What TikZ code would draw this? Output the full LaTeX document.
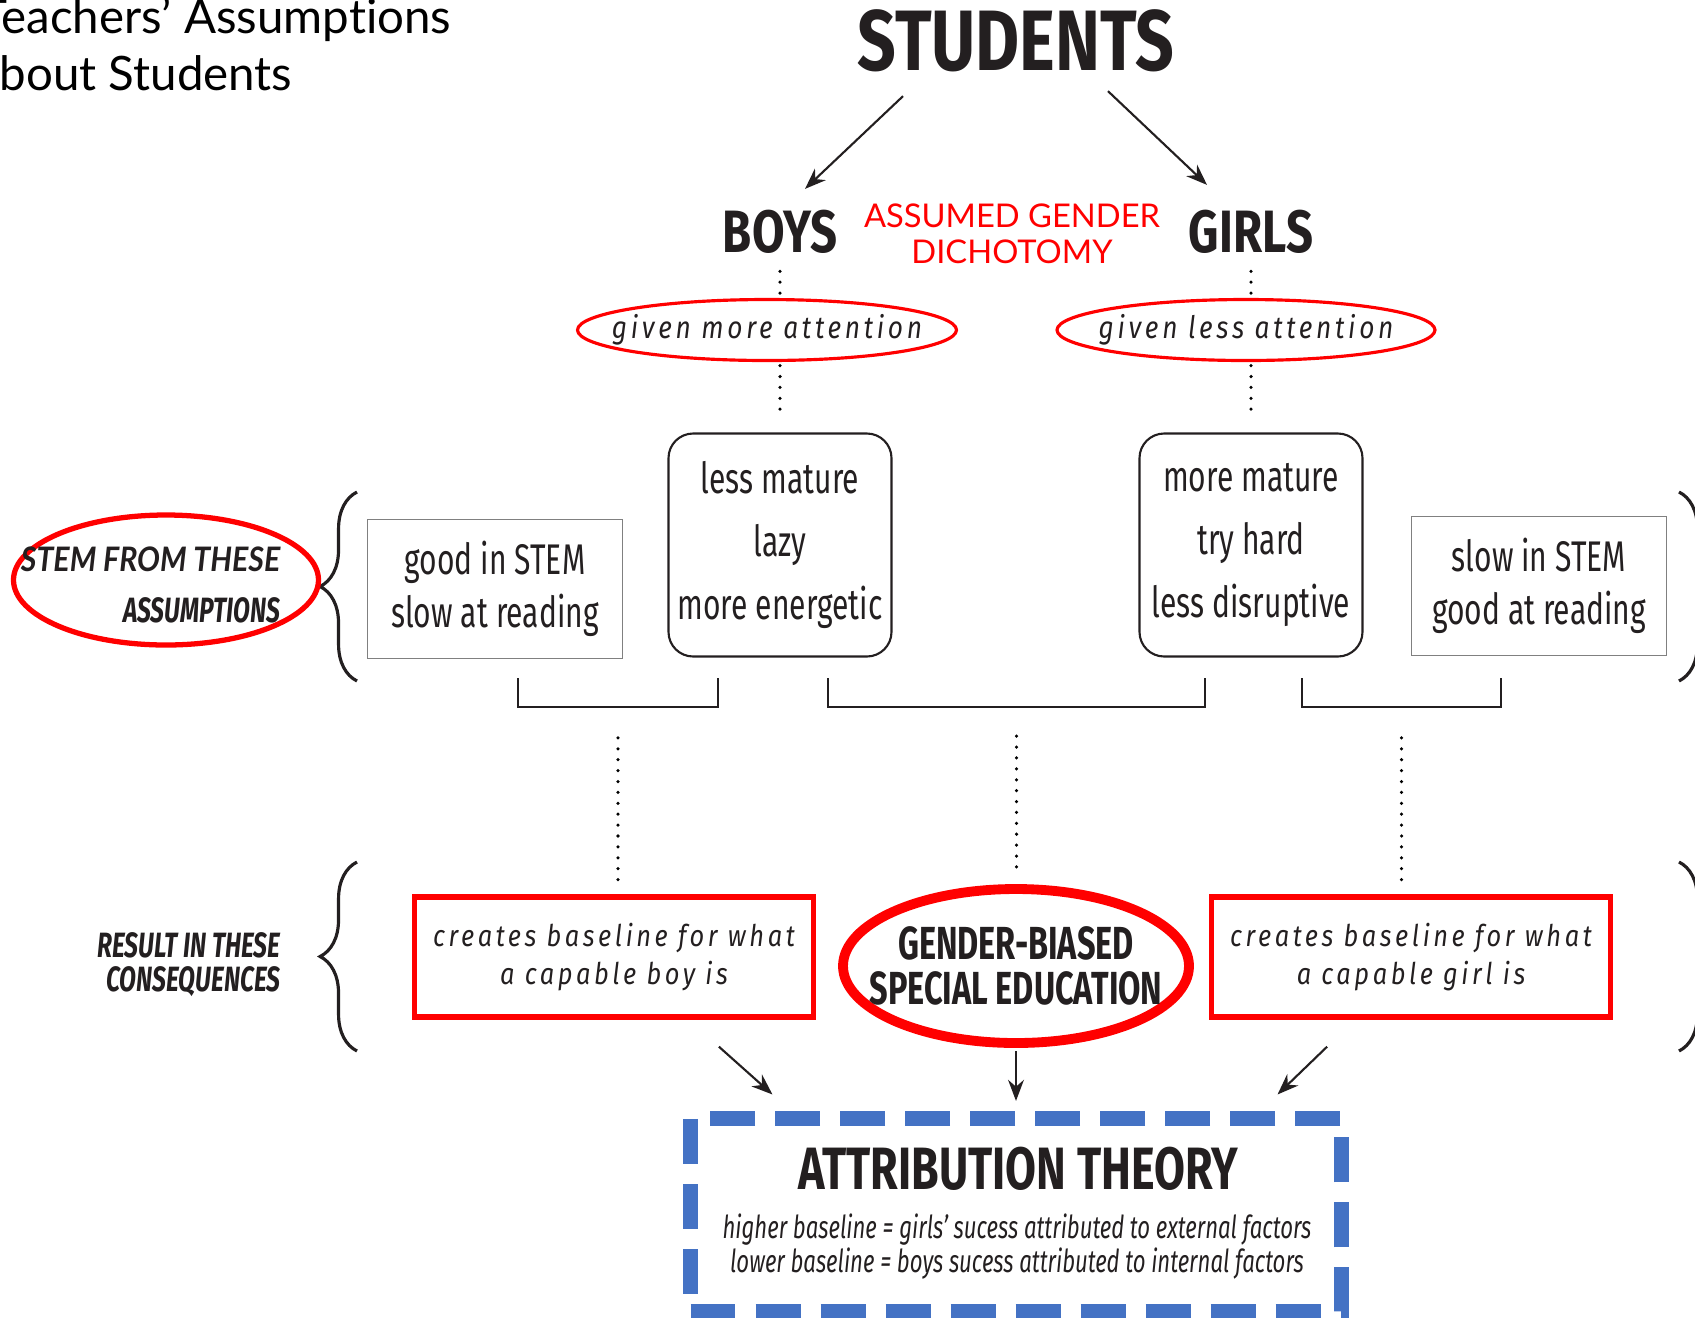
\documentclass[tikz,border=0pt]{standalone}
\usepackage{fontspec}
\setmainfont{Lato}[Ligatures=NoCommon]
\newfontfamily\narrowfont[FakeStretch=0.7]{Fira Sans}
\newfontfamily\headfont[FakeStretch=0.79]{Fira Sans}
\newfontfamily\theoryfont[FakeStretch=0.75]{Fira Sans}
\newfontfamily\spacedfont[FakeStretch=0.85,LetterSpace=12]{Fira Sans}
\newfontfamily\obliquefont[FakeStretch=0.9,Ligatures=NoCommon]{Lato}
\usetikzlibrary{arrows.meta,decorations.pathreplacing,shapes.geometric}
\definecolor{ink}{RGB}{35,31,32}
\definecolor{dashblue}{RGB}{68,114,196}

\begin{document}
\begin{tikzpicture}[x=0.1mm, y=-0.1mm, >={Stealth[length=6pt,width=4.5pt]},
	every node/.style={inner sep=0pt, text=ink},
	bigcaps/.style={font=\headfont\bfseries\fontsize{17}{20}\selectfont},
	trait/.style={draw=ink, line width=0.6pt, rounded corners=7pt, minimum width=22.3mm, minimum height=22.3mm, align=center, font=\narrowfont\fontsize{12.2}{17.9}\selectfont},
	skill/.style={draw=gray, line width=0.5pt, minimum width=25.5mm, minimum height=13.9mm, align=center, font=\narrowfont\fontsize{12.2}{15}\selectfont},
	given/.style={ellipse, draw=red, line width=0.9pt, inner xsep=-6pt, minimum width=37.8mm, minimum height=6.1mm, font=\spacedfont\itshape\fontsize{8.8}{10}\selectfont},
	capbox/.style={draw=red, line width=1.5pt, minimum width=39.9mm, minimum height=12mm, align=center, font=\spacedfont\itshape\fontsize{8.5}{10.8}\selectfont},
	dotline/.style={line width=1pt, line cap=round, dash pattern=on 0pt off 3.1pt},
	sidelabel/.style={anchor=base east, font=\narrowfont\bfseries\itshape\fontsize{10}{12}\selectfont},
	curly/.style={decorate, decoration={brace, amplitude=10.5pt}, line width=0.9pt, ink},
	link/.style={->, ink, line width=0.6pt}]

	\useasboundingbox (0,0) rectangle (1695,1317);
	\clip (0,0) rectangle (1695,1317);

	% title, cut off at the left edge
	\node[anchor=base east, text=black, font=\fontsize{13.5}{16}\selectfont] (title1) at (452,33) {Teachers’ Assumptions};
	\node[anchor=base east, text=black, font=\fontsize{13.5}{16}\selectfont] (title2) at (293,90) {About Students};

	% top of the tree
	\node[anchor=base, font=\headfont\bfseries\fontsize{24.4}{28}\selectfont] (students) at (1016,70) {STUDENTS};
	\node[anchor=base, bigcaps] (boys) at (780,252) {BOYS};
	\node[anchor=base, bigcaps] (girls) at (1251,252) {GIRLS};
	\node[anchor=base, text=red, font=\fontsize{9.3}{12}\selectfont] (dich1) at (1012,227) {ASSUMED GENDER};
	\node[anchor=base, text=red, font=\fontsize{9.3}{12}\selectfont] (dich2) at (1012,263) {DICHOTOMY};

	\draw[link] ([shift={(-113,24)}]students.south) -- ([shift={(25,-20)}]boys.north);
	\draw[link] ([shift={(92,19)}]students.south) -- ([shift={(-44,-24)}]girls.north);

	% attention
	\node[given] (moreatt) at (767,330) {given more attention};
	\node[given] (lessatt) at (1246,330) {given less attention};

	\draw[dotline, shorten <=5pt] (boys.south) -- (boys.south |- moreatt.north);
	\draw[dotline, shorten <=5pt] (girls.south) -- (girls.south |- lessatt.north);

	% assumptions
	\node[trait] (boysfeat) at (780,545) {less mature\\lazy\\more energetic};
	\node[trait] (girlsfeat) at (1251,545) {more mature\\try hard\\less disruptive};
	\node[skill] (boysskill) at (495,589) {good in STEM\\slow at reading};
	\node[skill] (girlsskill) at (1539,586) {slow in STEM\\good at reading};

	\draw[dotline, shorten <=1pt, shorten >=5.4pt] (boysfeat |- moreatt.south) -- (boysfeat.north);
	\draw[dotline, shorten <=1pt, shorten >=5.4pt] (girlsfeat |- lessatt.south) -- (girlsfeat.north);

	% braces
	\draw[curly] (357,681) -- (357,492);
	\draw[curly] (1679,492) -- (1679,681);
	\draw[curly] (357,1051) -- (357,862);
	\draw[curly] (1679,862) -- (1679,1051);

	% left labels
	\node[ellipse, draw=red, line width=1.5pt, minimum width=30.5mm, minimum height=13mm] (stemring) at (166,580) {};
	\node[anchor=base east, font=\obliquefont\bfseries\itshape\fontsize{9.6}{12}\selectfont] (stem1) at (281,571) {STEM FROM THESE};
	\node[sidelabel] (stem2) at (281,622) {ASSUMPTIONS};
	\node[sidelabel] (res1) at (281,957) {RESULT IN THESE};
	\node[sidelabel] (res2) at (281,991) {CONSEQUENCES};

	% brackets under the boxes
	\draw[ink, line width=0.8pt] (518,678) |- coordinate[pos=0.75] (brk1) (718,707) -- (718,678);
	\draw[ink, line width=0.8pt] (828,678) |- coordinate[pos=0.75] (brk2) (1205,707) -- (1205,678);
	\draw[ink, line width=0.8pt] (1302,678) |- coordinate[pos=0.75] (brk3) (1501,707) -- (1501,678);

	% consequences
	\node[capbox] (boyline) at (614,957) {creates baseline for what\\a capable boy is};
	\node[capbox] (girlline) at (1411,957) {creates baseline for what\\a capable girl is};
	\node[ellipse, draw=red, line width=2.8pt, inner xsep=-10pt, minimum width=34.6mm, minimum height=15.4mm, align=center,
		font=\narrowfont\bfseries\fontsize{13.2}{12.8}\selectfont] (bias) at (1016,966) {GENDER-BIASED\\SPECIAL EDUCATION};

	\draw[dotline, shorten <=8.8pt, shorten >=2pt] (brk1) -- (brk1 |- boyline.north);
	\draw[dotline, shorten <=8.3pt, shorten >=3pt] (brk2) -- (brk2 |- bias.north);
	\draw[dotline, shorten <=8.8pt, shorten >=2pt] (brk3) -- (brk3 |- girlline.north);

	% attribution theory
	\node[draw=dashblue, line width=4pt, dash pattern=on 12.8pt off 5.7pt, minimum width=65.1mm, minimum height=19.3mm] (theory) at (1016,1215) {};
	\node[anchor=base, font=\theoryfont\bfseries\fontsize{17}{20}\selectfont] (theoryhead) at (1018,1189) {ATTRIBUTION THEORY};
	\node[anchor=base, font=\narrowfont\itshape\fontsize{9}{9.8}\selectfont] (theory1) at (1017,1238) {higher baseline = girls’ sucess attributed to external factors};
	\node[anchor=base, font=\narrowfont\itshape\fontsize{9}{9.8}\selectfont] (theory2) at (1017,1272) {lower baseline = boys sucess attributed to internal factors};

	\draw[link] ([shift={(307,27)}]boyline.south west) -- ([shift={(89,-17)}]theory.north west);
	\draw[link, shorten <=1pt, shorten >=3pt] (bias.south) -- (theory.north);
	\draw[link] ([shift={(-286,27)}]girlline.south east) -- ([shift={(-71,-17)}]theory.north east);
\end{tikzpicture}
\end{document}
